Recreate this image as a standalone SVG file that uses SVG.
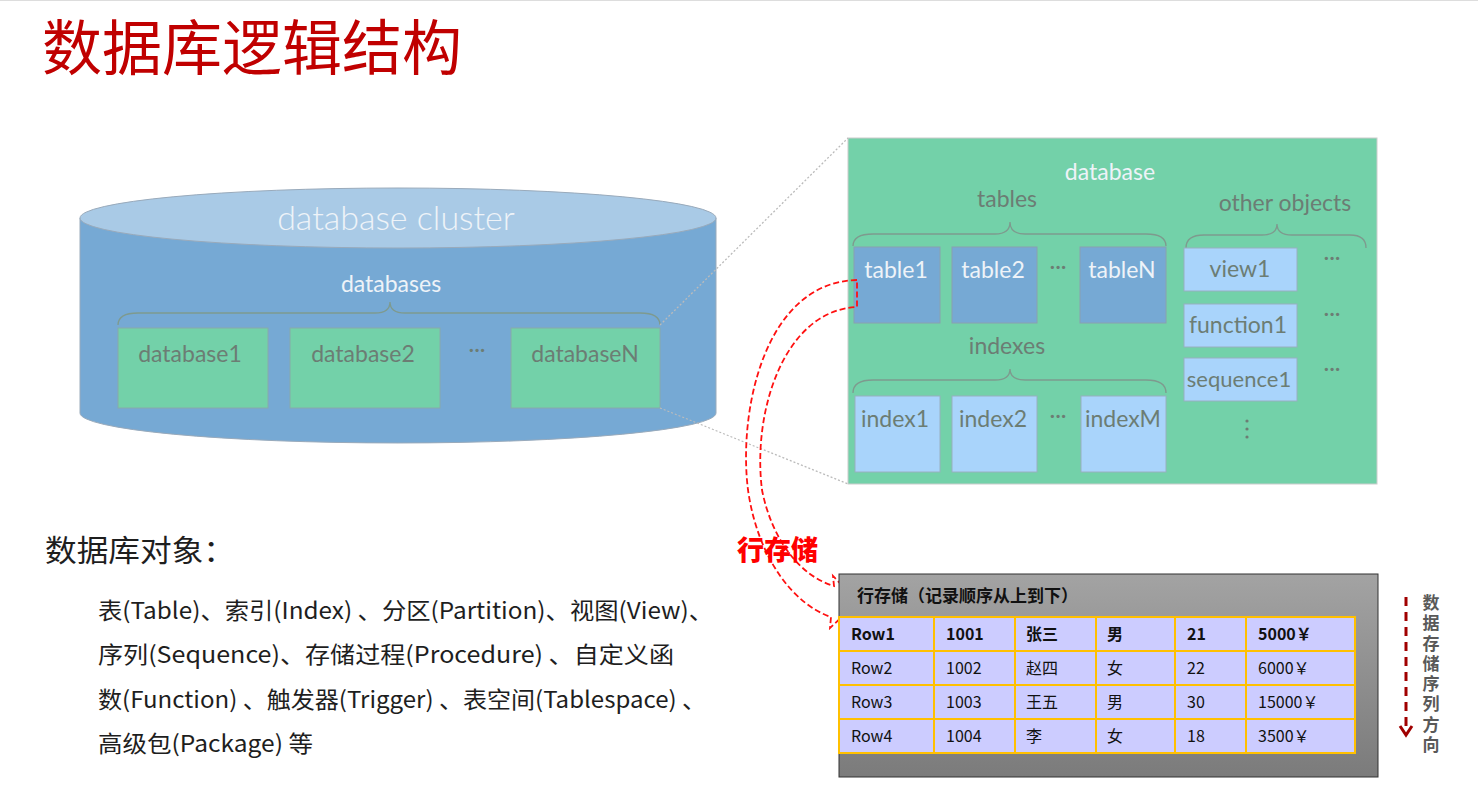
<svg xmlns="http://www.w3.org/2000/svg" width="1478" height="790" viewBox="0 0 1478 790">
<style>
.ttl{font-family:"Noto Sans CJK SC",sans-serif;font-size:60px;fill:#C00000}
.lt{font-family:Lato,"Noto Sans",sans-serif}
.wt{fill:#EEF3F8}
.gt{fill:#6c7d74}
.grn{fill:#73D1A9;stroke:#8aa;stroke-width:1}
.blu{fill:#76A9D4;stroke:#8aa0b0;stroke-width:1}
.lbl{fill:#A9D4FB;stroke:#98b0c0;stroke-width:1}
.brace{fill:none;stroke:#7e9a8e;stroke-width:1.3}
.cn{font-family:"Noto Sans CJK SC",sans-serif;fill:#1e1e1e}
.cell{fill:#CCCCFF;stroke:#FFC000;stroke-width:2}
.ct{font-family:"Noto Sans CJK SC",sans-serif;font-size:16px;fill:#111}
.dots{stroke:#bbbbbb;stroke-width:1.3;stroke-dasharray:2 2;fill:none}
</style>
<defs>
<linearGradient id="gp" x1="0" y1="0" x2="0" y2="1">
<stop offset="0" stop-color="#a3a3a3"/>
<stop offset="1" stop-color="#7b7b7b"/>
</linearGradient>
</defs>
<rect width="1478" height="790" fill="#fff"/>
<line x1="0" y1="0.5" x2="1478" y2="0.5" stroke="#ddd"/>
<text class="ttl" x="42" y="70" textLength="420" lengthAdjust="spacingAndGlyphs">数据库逻辑结构</text>

<g id="cluster">
<path d="M80,218 L80,413 A318,30 0 0 0 716,413 L716,218 Z" fill="#76A9D4" stroke="#9ab" stroke-width="1"/>
<ellipse cx="398" cy="218" rx="318" ry="30" fill="#A9CAE6" stroke="#9ab" stroke-width="1"/>
<text class="lt wt" x="396" y="230" font-size="34" font-weight="300" text-anchor="middle">database cluster</text>
<text class="lt wt" x="391" y="292" font-size="23" text-anchor="middle">databases</text>
<path class="brace" d="M118,325 Q118,313 138,313 L375,313 Q390,313 390,302 Q390,313 405,313 L640,313 Q660,313 660,325" stroke="#8ea6bb"/>
<text class="lt gt" x="477" y="357" font-size="22" text-anchor="middle">···</text>
</g>
<g id="database1"><rect class="grn" x="118" y="328" width="150" height="80"/><text class="lt gt" x="190" y="362" font-size="23" text-anchor="middle">database1</text></g>
<g id="database2"><rect class="grn" x="290" y="328" width="150" height="80"/><text class="lt gt" x="363" y="362" font-size="23" text-anchor="middle">database2</text></g>
<g id="databaseN"><rect class="grn" x="511" y="328" width="149" height="80"/><text class="lt gt" x="585" y="362" font-size="23" text-anchor="middle">databaseN</text></g>

<g id="database">
<rect x="848" y="138" width="529" height="346" fill="#73D1A9" stroke="#ccc" stroke-width="1"/>
<text class="lt wt" x="1110" y="180" font-size="23" text-anchor="middle">database</text>
<text class="lt gt" x="1007" y="207" font-size="23" text-anchor="middle">tables</text>
<text class="lt gt" x="1285" y="211" font-size="23" text-anchor="middle">other objects</text>
<text class="lt gt" x="1007" y="354" font-size="23" text-anchor="middle">indexes</text>
<path class="brace" d="M853,246 Q853,234 873,234 L995,234 Q1010,234 1010,222 Q1010,234 1025,234 L1146,234 Q1166,234 1166,246"/>
<path class="brace" d="M1186,248 Q1186,235 1204,235 L1262,235 Q1277,235 1277,224 Q1277,235 1292,235 L1350,235 Q1366,235 1366,248"/>
<path class="brace" d="M853,393 Q853,380 873,380 L995,380 Q1010,380 1010,369 Q1010,380 1025,380 L1146,380 Q1166,380 1166,393"/>
<text class="lt gt" x="1058" y="274" font-size="22" text-anchor="middle">···</text>
<text class="lt gt" x="1058" y="423" font-size="22" text-anchor="middle">···</text>
<text class="lt gt" x="1332" y="265" font-size="22" text-anchor="middle">···</text>
<text class="lt gt" x="1332" y="321" font-size="22" text-anchor="middle">···</text>
<text class="lt gt" x="1332" y="376" font-size="22" text-anchor="middle">···</text>
<circle cx="1247" cy="421" r="1.6" fill="#6c7d74"/><circle cx="1247" cy="429" r="1.6" fill="#6c7d74"/><circle cx="1247" cy="437" r="1.6" fill="#6c7d74"/>
</g>
<g id="table1"><rect class="blu" x="854" y="247" width="86" height="76"/><text class="lt wt" x="896" y="278" font-size="23" text-anchor="middle">table1</text></g>
<g id="table2"><rect class="blu" x="952" y="247" width="85" height="76"/><text class="lt wt" x="993" y="278" font-size="23" text-anchor="middle">table2</text></g>
<g id="tableN"><rect class="blu" x="1080" y="247" width="86" height="76"/><text class="lt wt" x="1122" y="278" font-size="23" text-anchor="middle">tableN</text></g>
<g id="index1"><rect class="lbl" x="855" y="396" width="85" height="76"/><text class="lt gt" x="895" y="427" font-size="23" text-anchor="middle">index1</text></g>
<g id="index2"><rect class="lbl" x="952" y="396" width="85" height="76"/><text class="lt gt" x="993" y="427" font-size="23" text-anchor="middle">index2</text></g>
<g id="indexM"><rect class="lbl" x="1081" y="396" width="85" height="76"/><text class="lt gt" x="1123" y="427" font-size="23" text-anchor="middle">indexM</text></g>
<g id="view1"><rect class="lbl" x="1184" y="248" width="113" height="43"/><text class="lt gt" x="1240" y="277" font-size="23" text-anchor="middle">view1</text></g>
<g id="function1"><rect class="lbl" x="1184" y="304" width="113" height="43"/><text class="lt gt" x="1238" y="333" font-size="23" text-anchor="middle">function1</text></g>
<g id="sequence1"><rect class="lbl" x="1184" y="358" width="113" height="43"/><text class="lt gt" x="1239" y="387" font-size="22" text-anchor="middle">sequence1</text></g>

<g id="connectors">
<line class="dots" x1="660" y1="325" x2="848" y2="138"/>
<line class="dots" x1="660" y1="408" x2="848" y2="484"/>
<path d="M857,280 C765,282 738,410 748,490 C758,560 795,605 831,617 L830,628 L858,602 L833,576 L834,586 C800,576 772,540 762,490 C752,410 785,310 857,307 Z" fill="none" stroke="#FF1010" stroke-width="1.8" stroke-dasharray="6 3"/>
<line x1="1406" y1="597" x2="1406" y2="728" stroke="#A00000" stroke-width="3" stroke-dasharray="9 6"/>
<path d="M1400,726 L1406,735 L1412,726" fill="none" stroke="#A00000" stroke-width="3"/>
</g>

<text x="737" y="560" font-family="'Noto Sans CJK SC',sans-serif" font-size="27" font-weight="900" fill="#FF0000">行存储</text>

<g id="rowstore">
<rect x="839" y="574" width="539" height="203" fill="url(#gp)" stroke="#333" stroke-width="1"/>
<text x="857" y="602" font-family="'Noto Sans CJK SC',sans-serif" font-size="17" font-weight="bold" fill="#111">行存储（记录顺序从上到下）</text>
<g>
<rect class="cell" x="839" y="617" width="95" height="34"/><rect class="cell" x="934" y="617" width="81" height="34"/><rect class="cell" x="1015" y="617" width="81" height="34"/><rect class="cell" x="1096" y="617" width="79" height="34"/><rect class="cell" x="1175" y="617" width="71" height="34"/><rect class="cell" x="1246" y="617" width="109" height="34"/>
<rect class="cell" x="839" y="651" width="95" height="34"/><rect class="cell" x="934" y="651" width="81" height="34"/><rect class="cell" x="1015" y="651" width="81" height="34"/><rect class="cell" x="1096" y="651" width="79" height="34"/><rect class="cell" x="1175" y="651" width="71" height="34"/><rect class="cell" x="1246" y="651" width="109" height="34"/>
<rect class="cell" x="839" y="685" width="95" height="34"/><rect class="cell" x="934" y="685" width="81" height="34"/><rect class="cell" x="1015" y="685" width="81" height="34"/><rect class="cell" x="1096" y="685" width="79" height="34"/><rect class="cell" x="1175" y="685" width="71" height="34"/><rect class="cell" x="1246" y="685" width="109" height="34"/>
<rect class="cell" x="839" y="719" width="95" height="34"/><rect class="cell" x="934" y="719" width="81" height="34"/><rect class="cell" x="1015" y="719" width="81" height="34"/><rect class="cell" x="1096" y="719" width="79" height="34"/><rect class="cell" x="1175" y="719" width="71" height="34"/><rect class="cell" x="1246" y="719" width="109" height="34"/>
</g>
<g class="ct" font-weight="bold">
<text x="851" y="640">Row1</text><text x="946" y="640">1001</text><text x="1026" y="640">张三</text><text x="1107" y="640">男</text><text x="1187" y="640">21</text><text x="1258" y="640">5000￥</text>
</g>
<g class="ct">
<text x="851" y="674">Row2</text><text x="946" y="674">1002</text><text x="1026" y="674">赵四</text><text x="1107" y="674">女</text><text x="1187" y="674">22</text><text x="1258" y="674">6000￥</text>
<text x="851" y="708">Row3</text><text x="946" y="708">1003</text><text x="1026" y="708">王五</text><text x="1107" y="708">男</text><text x="1187" y="708">30</text><text x="1258" y="708">15000￥</text>
<text x="851" y="742">Row4</text><text x="946" y="742">1004</text><text x="1026" y="742">李</text><text x="1107" y="742">女</text><text x="1187" y="742">18</text><text x="1258" y="742">3500￥</text>
</g>
</g>

<g id="direction">
<text x="1431" y="594" font-family="'Noto Sans CJK SC',sans-serif" font-size="17" font-weight="bold" fill="#595959" style="writing-mode:vertical-rl" letter-spacing="3.3">数据存储序列方向</text>
</g>

<g id="objects" class="cn">
<text x="45" y="561" font-size="30" textLength="190" lengthAdjust="spacingAndGlyphs">数据库对象：</text>
<text x="98" y="619" font-size="23" textLength="615" lengthAdjust="spacingAndGlyphs">表(Table)、索引(Index) 、分区(Partition)、视图(View)、</text>
<text x="98" y="663" font-size="23" textLength="576" lengthAdjust="spacingAndGlyphs">序列(Sequence)、存储过程(Procedure) 、自定义函</text>
<text x="98" y="708" font-size="23" textLength="608" lengthAdjust="spacingAndGlyphs">数(Function) 、触发器(Trigger) 、表空间(Tablespace) 、</text>
<text x="98" y="752" font-size="23" textLength="215" lengthAdjust="spacingAndGlyphs">高级包(Package) 等</text>
</g>
</svg>
